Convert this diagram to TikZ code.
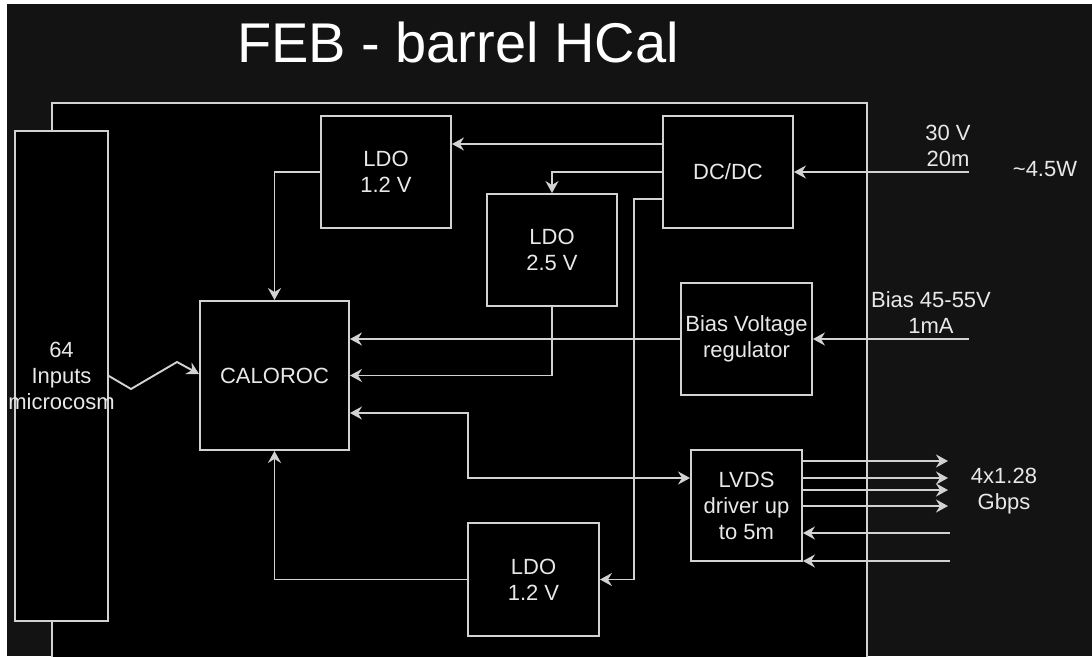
\documentclass[tikz,border=0pt]{standalone}
\usepackage{fontspec}
\setmainfont{Liberation Sans}
\usetikzlibrary{arrows.meta}
\definecolor{bgdark}{HTML}{131313}
\definecolor{linec}{HTML}{D2D2D2}
\definecolor{textc}{HTML}{E8E8E8}
\begin{document}
\begin{tikzpicture}[x=1pt,y=-1pt,
  blk/.style={draw=linec, line width=1.9pt, fill=black, text=textc, align=center, inner sep=0pt,
    font=\fontsize{22}{26}\selectfont},
  lbl/.style={text=textc, align=center, inner sep=0pt, font=\fontsize{22}{26}\selectfont},
  tip/.tip={Stealth[length=12pt,width=13pt,inset=4pt]},
  arr/.style={draw=linec, line width=1.9pt, -tip},
  arrtwo/.style={draw=linec, line width=1.9pt, tip-tip},
  wire/.style={draw=linec, line width=1.9pt}]
\useasboundingbox (0,0) rectangle (1092,656);
\clip (0,0) rectangle (1092,656);
\fill[white] (0,0) rectangle (1092,656);
\fill[bgdark] (7,4) rectangle (1092,656);
% title
\node[text=white, inner sep=0pt, font=\fontsize{56}{60}\selectfont] (title) at (458,42) {FEB - barrel HCal};
% board
\draw[wire, fill=black] (52,103) rectangle (867,700);
% blocks
\node[blk, minimum width=93pt, minimum height=490pt] (inp) at (61.5,376) {};
\node[lbl] (inptext) at (inp.center) {64\\Inputs\\microcosm};
\node[blk, minimum width=130pt, minimum height=112pt] (ldoA) at (386,172) {LDO\\1.2 V};
\node[blk, minimum width=130pt, minimum height=112pt] (dcdc) at (728,172) {DC/DC};
\node[blk, minimum width=130pt, minimum height=112pt] (ldoB) at (552,250) {LDO\\2.5 V};
\node[blk, minimum width=131pt, minimum height=112pt] (bias) at (746.5,339) {Bias Voltage\\regulator};
\node[blk, minimum width=149pt, minimum height=149pt] (calo) at (274.5,375.5) {CALOROC};
\node[blk, minimum width=111pt, minimum height=111pt] (lvds) at (746.5,505.5) {LVDS\\driver up\\to 5m};
\node[blk, minimum width=131pt, minimum height=113pt] (ldoC) at (533.5,579.5) {LDO\\1.2 V};
% external labels
\node[lbl] (l30) at (948,146) {30 V\\20m};
\node[lbl] (lpow) at (1045,169) {\textasciitilde4.5W};
\node[lbl] (lbias) at (931,313) {Bias 45-55V\\1mA};
\node[lbl] (lgbps) at (1004,491) {4x1.28\\Gbps};
% free ends
\coordinate (pin) at (969,172);
\coordinate (bin) at (969,339);
\coordinate (o1) at (948,461);
\coordinate (o2) at (948,478);
\coordinate (o3) at (948,490);
\coordinate (o4) at (948,506);
\coordinate (i1) at (950,533);
\coordinate (i2) at (950,561);
% connectors
\draw[arr] (dcdc.west |- 0,144) -- (ldoA.east |- 0,144);
\draw[arr] (dcdc.west) -| (ldoB.north);
\draw[arr] (dcdc.west |- 0,199) -- ++(-28,0) |- (ldoC.east);
\draw[arr] (ldoA.west) -| (calo.north);
\draw[arr] (bias.west) -- (calo.east |- bias.west);
\draw[arr] (ldoB.south) |- (calo.east);
\draw[arrtwo] (calo.east |- 0,413) -- (468,413) |- (lvds.west |- 0,478);
\draw[arr] (ldoC.west) -| (calo.south);
\draw[arr] (inp.east |- 0,376) -- (131,389) -- (177,362) -- (calo.west |- 0,374);
\draw[arr] (pin) -- (dcdc.east);
\draw[arr] (bin) -- (bias.east);
\draw[arr] (lvds.east |- o1) -- (o1);
\draw[arr] (lvds.east |- o2) -- (o2);
\draw[arr] (lvds.east |- o3) -- (o3);
\draw[arr] (lvds.east |- o4) -- (o4);
\draw[arr] (i1) -- (lvds.east |- i1);
\draw[arr] (i2) -- (lvds.east |- i2);
\end{tikzpicture}
\end{document}
